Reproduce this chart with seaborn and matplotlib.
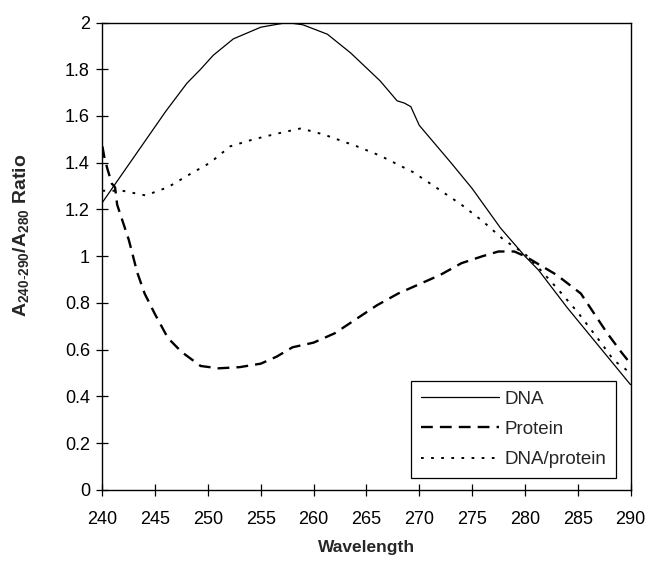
import numpy as np
import pandas as pd
import matplotlib
matplotlib.use('Agg')
import matplotlib.pyplot as plt
import seaborn as sns

# values
dna_wl = [240, 242, 244, 246, 248, 249.3, 250.5, 252.4, 255, 257.5, 259, 261.3,
          263.5, 266.3, 267.9, 268.6, 269.2, 270, 273, 275, 277.7, 280, 281.3,
          284, 286, 288, 290]
dna_ratio = [1.23, 1.36, 1.49, 1.62, 1.74, 1.80, 1.86, 1.93, 1.98, 2.0, 1.99,
             1.95, 1.87, 1.75, 1.665, 1.655, 1.64, 1.56, 1.40, 1.29, 1.12, 1.0,
             0.94, 0.78, 0.67, 0.56, 0.45]

protein_wl = [240, 240.2, 240.5, 240.9, 241.2, 241.4, 242.5, 243.3, 244, 245,
              246.2, 247.5, 249.3, 251, 253, 255, 256.5, 258, 260, 262, 264,
              266, 268, 270, 272, 274, 276, 277.5, 279, 280, 281.5, 283, 285.3,
              287.8, 289.2, 290]
protein_ratio = [1.47, 1.42, 1.37, 1.31, 1.295, 1.22, 1.07, 0.93, 0.84, 0.75,
                 0.65, 0.59, 0.53, 0.52, 0.525, 0.54, 0.57, 0.61, 0.63, 0.67,
                 0.73, 0.79, 0.84, 0.88, 0.92, 0.97, 1.00, 1.02, 1.02, 1.00,
                 0.96, 0.92, 0.84, 0.67, 0.585, 0.54]

mix_wl = [240, 241.9, 244.1, 246.2, 248.1, 250.2, 252.1, 254.3, 256.6, 258.8,
          261, 264.1, 266.3, 269.4, 271.4, 274, 276, 278, 280, 281.5, 283.1,
          285, 287.2, 288.4, 290]
mix_ratio = [1.28, 1.28, 1.26, 1.295, 1.346, 1.40, 1.47, 1.50, 1.525, 1.547,
             1.52, 1.47, 1.43, 1.36, 1.30, 1.22, 1.15, 1.07, 1.01, 0.94, 0.86,
             0.76, 0.63, 0.555, 0.50]

sns.set_style('ticks')
plt.rcParams['font.family'] = ['Liberation Sans', 'DejaVu Sans']
plt.rcParams['mathtext.fontset'] = 'custom'
plt.rcParams['mathtext.rm'] = 'Liberation Sans'
plt.rcParams['mathtext.bf'] = 'Liberation Sans:bold'

fig = plt.figure(figsize=(6.48, 5.63), dpi=100)
ax = fig.add_axes([0.158, 0.130, 0.815, 0.830])

sns.lineplot(x=dna_wl, y=dna_ratio, ax=ax, color='black', lw=0.9,
             label='DNA', sort=False)
sns.lineplot(x=protein_wl, y=protein_ratio, ax=ax, color='black', lw=1.7,
             label='Protein', sort=False)
sns.lineplot(x=mix_wl, y=mix_ratio, ax=ax, color='black', lw=1.4,
             label='DNA/protein', sort=False)
ax.lines[1].set_dashes([5, 3])
ax.lines[2].set_dashes([1.4, 3.8])

ax.set_xlim(240, 290)
ax.set_ylim(0, 2)
ax.set_xticks(np.arange(240, 291, 5))
ax.set_yticks(np.arange(0, 2.01, 0.2))
ax.set_yticklabels(['0', '0.2', '0.4', '0.6', '0.8', '1', '1.2', '1.4',
                    '1.6', '1.8', '2'])
ax.tick_params(direction='inout', length=8, width=0.9, labelsize=13,
               colors='black')
ax.tick_params(axis='x', pad=11)
ax.tick_params(axis='y', pad=5)
for s in ax.spines.values():
    s.set_visible(True)
    s.set_color('black')
    s.set_linewidth(1.0)

ax.set_xlabel('Wavelength', fontsize=12.5, fontweight='bold')
ax.set_ylabel(r'$\mathbf{A_{240\text{-}290}/A_{280}}$ Ratio', fontsize=14,
              fontweight='bold')
ax.xaxis.set_label_coords(0.5, -0.108)
ax.yaxis.set_label_coords(-0.135, 0.545)

leg = ax.legend(loc='lower right', bbox_to_anchor=(0.973, 0.026),
                fontsize=13.5, frameon=True, fancybox=False, borderpad=0.5,
                handlelength=4.2, labelspacing=0.7, handletextpad=0.3,
                borderaxespad=0)
leg.get_frame().set_edgecolor('black')
leg.get_frame().set_linewidth(0.9)
leg.get_frame().set_alpha(1)

fig.savefig('out.png', dpi=100)
